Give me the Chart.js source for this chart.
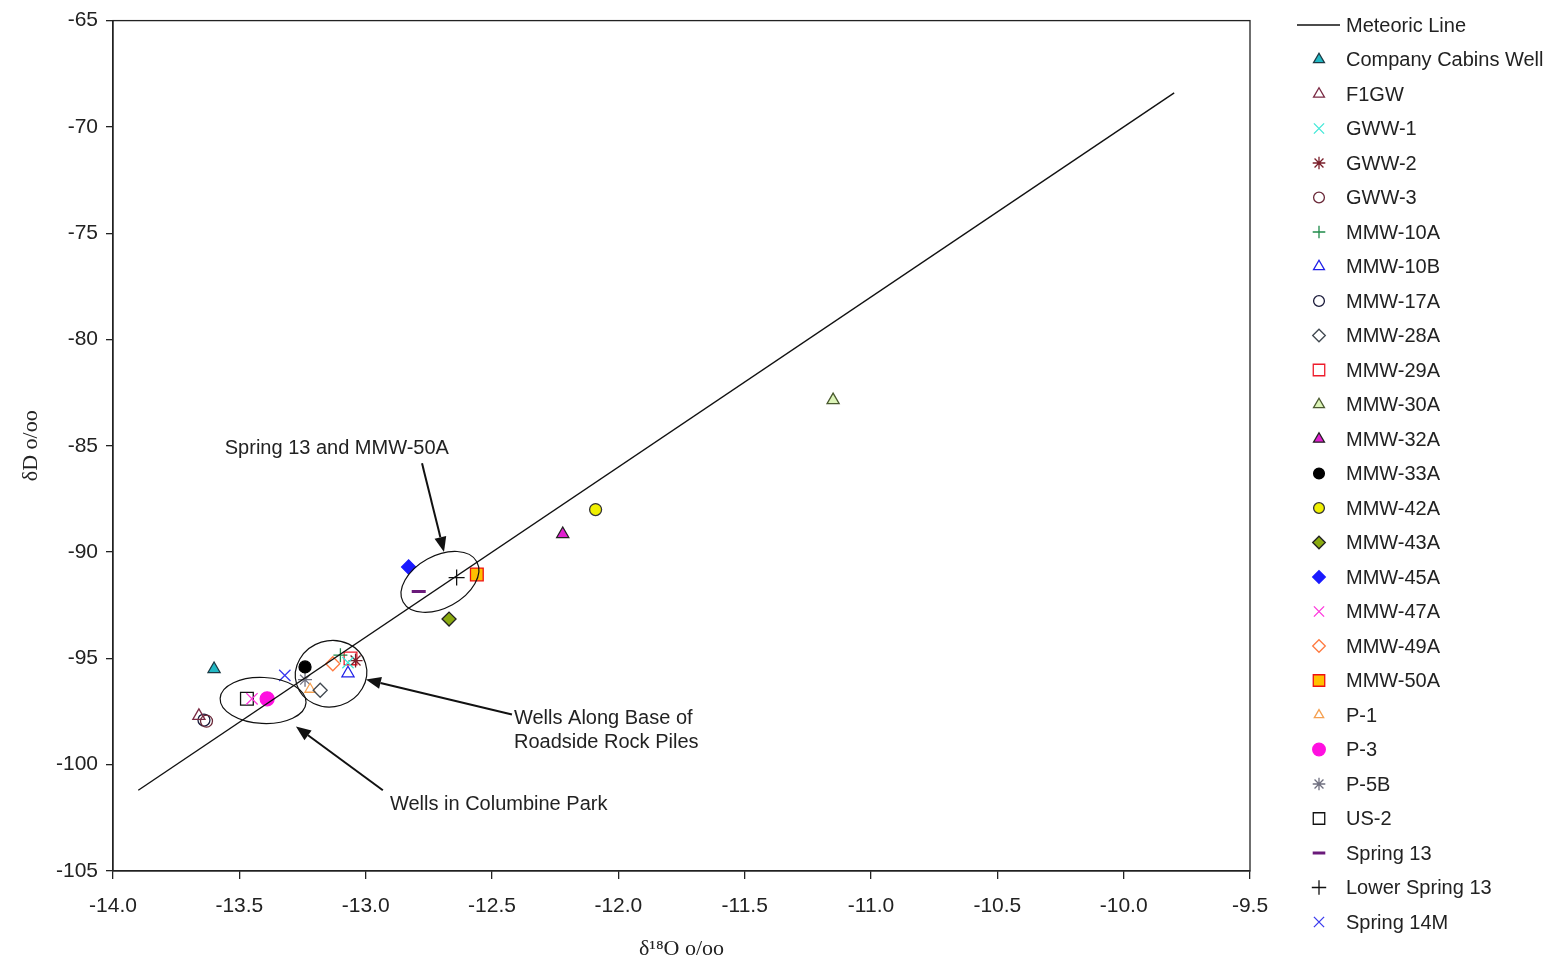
<!DOCTYPE html>
<html>
<head>
<meta charset="utf-8">
<script src="https://cdn.jsdelivr.net/npm/chart.js@4/dist/chart.umd.min.js"></script>
<style>
  html, body { margin:0; padding:0; background:#fff; }
  #wrap { width:1554px; height:962px; position:relative; }
</style>
</head>
<body>
<div id="wrap"><canvas id="iso"></canvas></div>
<script>
'use strict';
// ---- data ----
const seriesNames = ['Company Cabins Well','F1GW','GWW-1','GWW-2','GWW-3','MMW-10A','MMW-10B','MMW-17A',
  'MMW-28A','MMW-29A','MMW-30A','MMW-32A','MMW-33A','MMW-42A','MMW-43A','MMW-45A','MMW-47A','MMW-49A',
  'MMW-50A','P-1','P-3','P-5B','US-2','Spring 13','Lower Spring 13','Spring 14M'];
const d18O = [-13.60,-13.66,-13.07,-13.04,-13.63,-13.10,-13.07,-13.64,
  -13.18,-13.06,-11.15,-12.22,-13.24,-12.09,-12.67,-12.83,-13.45,-13.13,
  -12.56,-13.22,-13.39,-13.24,-13.47,-12.79,-12.64,-13.32];
const dD = [-95.5,-97.7,-95.2,-95.1,-97.95,-94.85,-95.7,-97.9,
  -96.5,-95.0,-82.85,-89.15,-95.4,-88.0,-93.15,-90.7,-96.9,-95.25,
  -91.05,-96.45,-96.9,-96.0,-96.9,-91.85,-91.2,-95.8];
const meteoricX = [-13.90, -9.80];
const meteoricY = [-101.2, -68.4];
const xTicks = [-14.0,-13.5,-13.0,-12.5,-12.0,-11.5,-11.0,-10.5,-10.0,-9.5];
const yTicks = [-65,-70,-75,-80,-85,-90,-95,-100,-105];

// ---- marker styles, same order as seriesNames ----
const markers = [
  { s:'triangle', bg:'#22b8c4', bd:'#1c3a44', r:7 },
  { s:'triangle', bg:'rgba(0,0,0,0)', bd:'#7a2a44', r:7 },
  { s:'crossRot', bg:'rgba(0,0,0,0)', bd:'#40e8d8', r:8 },
  { s:'star', bg:'rgba(0,0,0,0)', bd:'#7a1f2b', r:7 },
  { s:'circle', bg:'rgba(0,0,0,0)', bd:'#6a2838', r:6 },
  { s:'cross', bg:'rgba(0,0,0,0)', bd:'#1f8a4a', r:7 },
  { s:'triangle', bg:'rgba(0,0,0,0)', bd:'#2020e8', r:7 },
  { s:'circle', bg:'rgba(0,0,0,0)', bd:'#1a1a3a', r:6 },
  { s:'rectRot', bg:'rgba(0,0,0,0)', bd:'#404850', r:7 },
  { s:'rect', bg:'rgba(0,0,0,0)', bd:'#ee1c2c', r:9 },
  { s:'triangle', bg:'#dcf4b8', bd:'#4a5a30', r:7 },
  { s:'triangle', bg:'#e020d0', bd:'#222', r:7 },
  { s:'circle', bg:'#000', bd:'#000', r:6 },
  { s:'circle', bg:'#f0f000', bd:'#333', r:6 },
  { s:'rectRot', bg:'#8aaa10', bd:'#222', r:7 },
  { s:'rectRot', bg:'#1a1aff', bd:'#1a1aff', r:7 },
  { s:'crossRot', bg:'rgba(0,0,0,0)', bd:'#ff33dd', r:8 },
  { s:'rectRot', bg:'rgba(0,0,0,0)', bd:'#ff7a40', r:7 },
  { s:'rect', bg:'#ffc000', bd:'#ee1010', r:9 },
  { s:'triangle', bg:'rgba(0,0,0,0)', bd:'#f5a050', r:6 },
  { s:'circle', bg:'#ff10e0', bd:'#ff10e0', r:7 },
  { s:'star', bg:'rgba(0,0,0,0)', bd:'#707080', r:7 },
  { s:'rect', bg:'rgba(0,0,0,0)', bd:'#111', r:9 },
  { s:'line', bg:'rgba(0,0,0,0)', bd:'#6a1a7a', r:7, w:3 },
  { s:'cross', bg:'rgba(0,0,0,0)', bd:'#111', r:8 },
  { s:'crossRot', bg:'rgba(0,0,0,0)', bd:'#3a3aee', r:8 },
];

// ---- callouts, anchored in data units ----
const ellipses = [
  { x:-12.706, y:-91.40, rx:42, ry:26, rot:-0.50 },
  { x:-13.137, y:-95.72, rx:36, ry:33, rot:-0.30 },
  { x:-13.406, y:-96.98, rx:43, ry:23, rot:0.05 },
];
const arrows = [
  { x0:-12.777, y0:-85.82, x1:-12.690, y1:-89.99 },
  { x0:-12.421, y0:-97.64, x1:-12.999, y1:-95.99 },
  { x0:-12.932, y0:-101.20, x1:-13.276, y1:-98.20 },
];
const notes = [
  { text:'Spring 13 and MMW-50A', x:-13.114, y:-85.12, align:'center' },
  { text:'Wells Along Base of', x:-12.413, y:-97.83, align:'left' },
  { text:'Roadside Rock Piles', x:-12.413, y:-98.95, align:'left' },
  { text:'Wells in Columbine Park', x:-12.904, y:-101.86, align:'left' },
];

const SANS = '"Liberation Sans", Arial, sans-serif';
const SERIF = '"Liberation Serif", "Times New Roman", serif';

const datasets = [{
  label:'Meteoric Line', type:'line',
  data: meteoricX.map((x, i) => ({ x, y: meteoricY[i] })),
  borderColor:'#111', borderWidth:1.4, pointRadius:0, fill:false, tension:0,
}].concat(seriesNames.map((name, i) => ({
  label:name, type:'scatter',
  data:[{ x:d18O[i], y:dD[i] }],
  pointStyle:markers[i].s, pointRadius:markers[i].r, pointHoverRadius:markers[i].r,
  backgroundColor:markers[i].bg, borderColor:markers[i].bd, borderWidth:markers[i].w || 1.3,
})));

const framePlugin = {
  id:'frame',
  afterDatasetsDraw(chart) {
    const { ctx, chartArea:a, scales:{ x, y } } = chart;
    ctx.save();
    ctx.strokeStyle = '#222'; ctx.lineWidth = 1.3;
    ctx.strokeRect(a.left, a.top, a.right - a.left, a.bottom - a.top);
    // ellipses
    ctx.strokeStyle = '#111'; ctx.lineWidth = 1.2;
    ellipses.forEach(e => {
      ctx.beginPath();
      ctx.ellipse(x.getPixelForValue(e.x), y.getPixelForValue(e.y), e.rx, e.ry, e.rot, 0, Math.PI * 2);
      ctx.stroke();
    });
    // arrows
    ctx.fillStyle = '#111'; ctx.lineWidth = 2;
    arrows.forEach(ar => {
      const px0 = x.getPixelForValue(ar.x0), py0 = y.getPixelForValue(ar.y0);
      const px1 = x.getPixelForValue(ar.x1), py1 = y.getPixelForValue(ar.y1);
      const ang = Math.atan2(py1 - py0, px1 - px0), hl = 15, hw = 6;
      const bx = px1 - Math.cos(ang) * hl, by = py1 - Math.sin(ang) * hl;
      ctx.beginPath(); ctx.moveTo(px0, py0); ctx.lineTo(bx, by); ctx.stroke();
      ctx.beginPath();
      ctx.moveTo(px1, py1);
      ctx.lineTo(bx + Math.sin(ang) * hw, by - Math.cos(ang) * hw);
      ctx.lineTo(bx - Math.sin(ang) * hw, by + Math.cos(ang) * hw);
      ctx.closePath(); ctx.fill();
    });
    // notes
    ctx.font = '20px ' + SANS; ctx.fillStyle = '#222'; ctx.textBaseline = 'middle';
    notes.forEach(n => {
      ctx.textAlign = n.align;
      ctx.fillText(n.text, x.getPixelForValue(n.x), y.getPixelForValue(n.y));
    });
    ctx.restore();
  },
};

const legendPlugin = {
  id:'sideLegend',
  afterDraw(chart) {
    const { ctx } = chart;
    const top = 25, step = 34.5, markX = 1319, textX = 1346;
    ctx.save();
    ctx.font = '20px ' + SANS; ctx.fillStyle = '#222';
    ctx.textAlign = 'left'; ctx.textBaseline = 'middle';
    chart.data.datasets.forEach((ds, i) => {
      const yy = top + i * step;
      if (ds.type === 'line') {
        ctx.strokeStyle = '#111'; ctx.lineWidth = 1.4;
        ctx.beginPath(); ctx.moveTo(1297, yy); ctx.lineTo(1340, yy); ctx.stroke();
      } else {
        ctx.fillStyle = ds.backgroundColor; ctx.strokeStyle = ds.borderColor; ctx.lineWidth = ds.borderWidth;
        Chart.helpers.drawPoint(ctx, { pointStyle:ds.pointStyle, radius:ds.pointRadius * 0.9, rotation:0, borderWidth:ds.borderWidth }, markX, yy);
      }
      ctx.fillStyle = '#222';
      ctx.fillText(ds.label, textX, yy + 1);
    });
    ctx.restore();
  },
};

new Chart(document.getElementById('iso'), {
  data:{ datasets },
  options:{
    responsive:true, maintainAspectRatio:false, animation:false,
    layout:{ padding:{ top:18, right:304, left:0, bottom:0 } },
    plugins:{ legend:{ display:false }, tooltip:{ enabled:false } },
    scales:{
      x:{
        type:'linear', min:xTicks[0], max:xTicks[xTicks.length - 1],
        afterBuildTicks: s => { s.ticks = xTicks.map(v => ({ value:v })); },
        afterFit: s => { s.height = 91; },
        border:{ color:'#222', width:1.3 },
        grid:{ drawOnChartArea:false, drawTicks:true, tickLength:8, color:'#222', lineWidth:1.3 },
        ticks:{ color:'#222', font:{ family:SANS, size:21 }, padding:15, maxRotation:0, callback: v => v.toFixed(1) },
        title:{ display:true, text:'δ¹⁸O o/oo', color:'#222', font:{ family:SERIF, size:22 }, padding:{ top:0, bottom:0 } },
      },
      y:{
        type:'linear', min:yTicks[yTicks.length - 1], max:yTicks[0],
        afterBuildTicks: s => { s.ticks = yTicks.map(v => ({ value:v })); },
        afterFit: s => { s.width = 113; },
        border:{ color:'#222', width:1.3 },
        grid:{ drawOnChartArea:false, drawTicks:true, tickLength:7, color:'#222', lineWidth:1.3 },
        ticks:{ color:'#222', font:{ family:SANS, size:21 }, padding:8 },
        title:{ display:true, text:'δD o/oo', color:'#222', font:{ family:SERIF, size:22 }, padding:{ top:18, bottom:0 } },
      },
    },
  },
  plugins:[framePlugin, legendPlugin],
});
</script>
</body>
</html>
